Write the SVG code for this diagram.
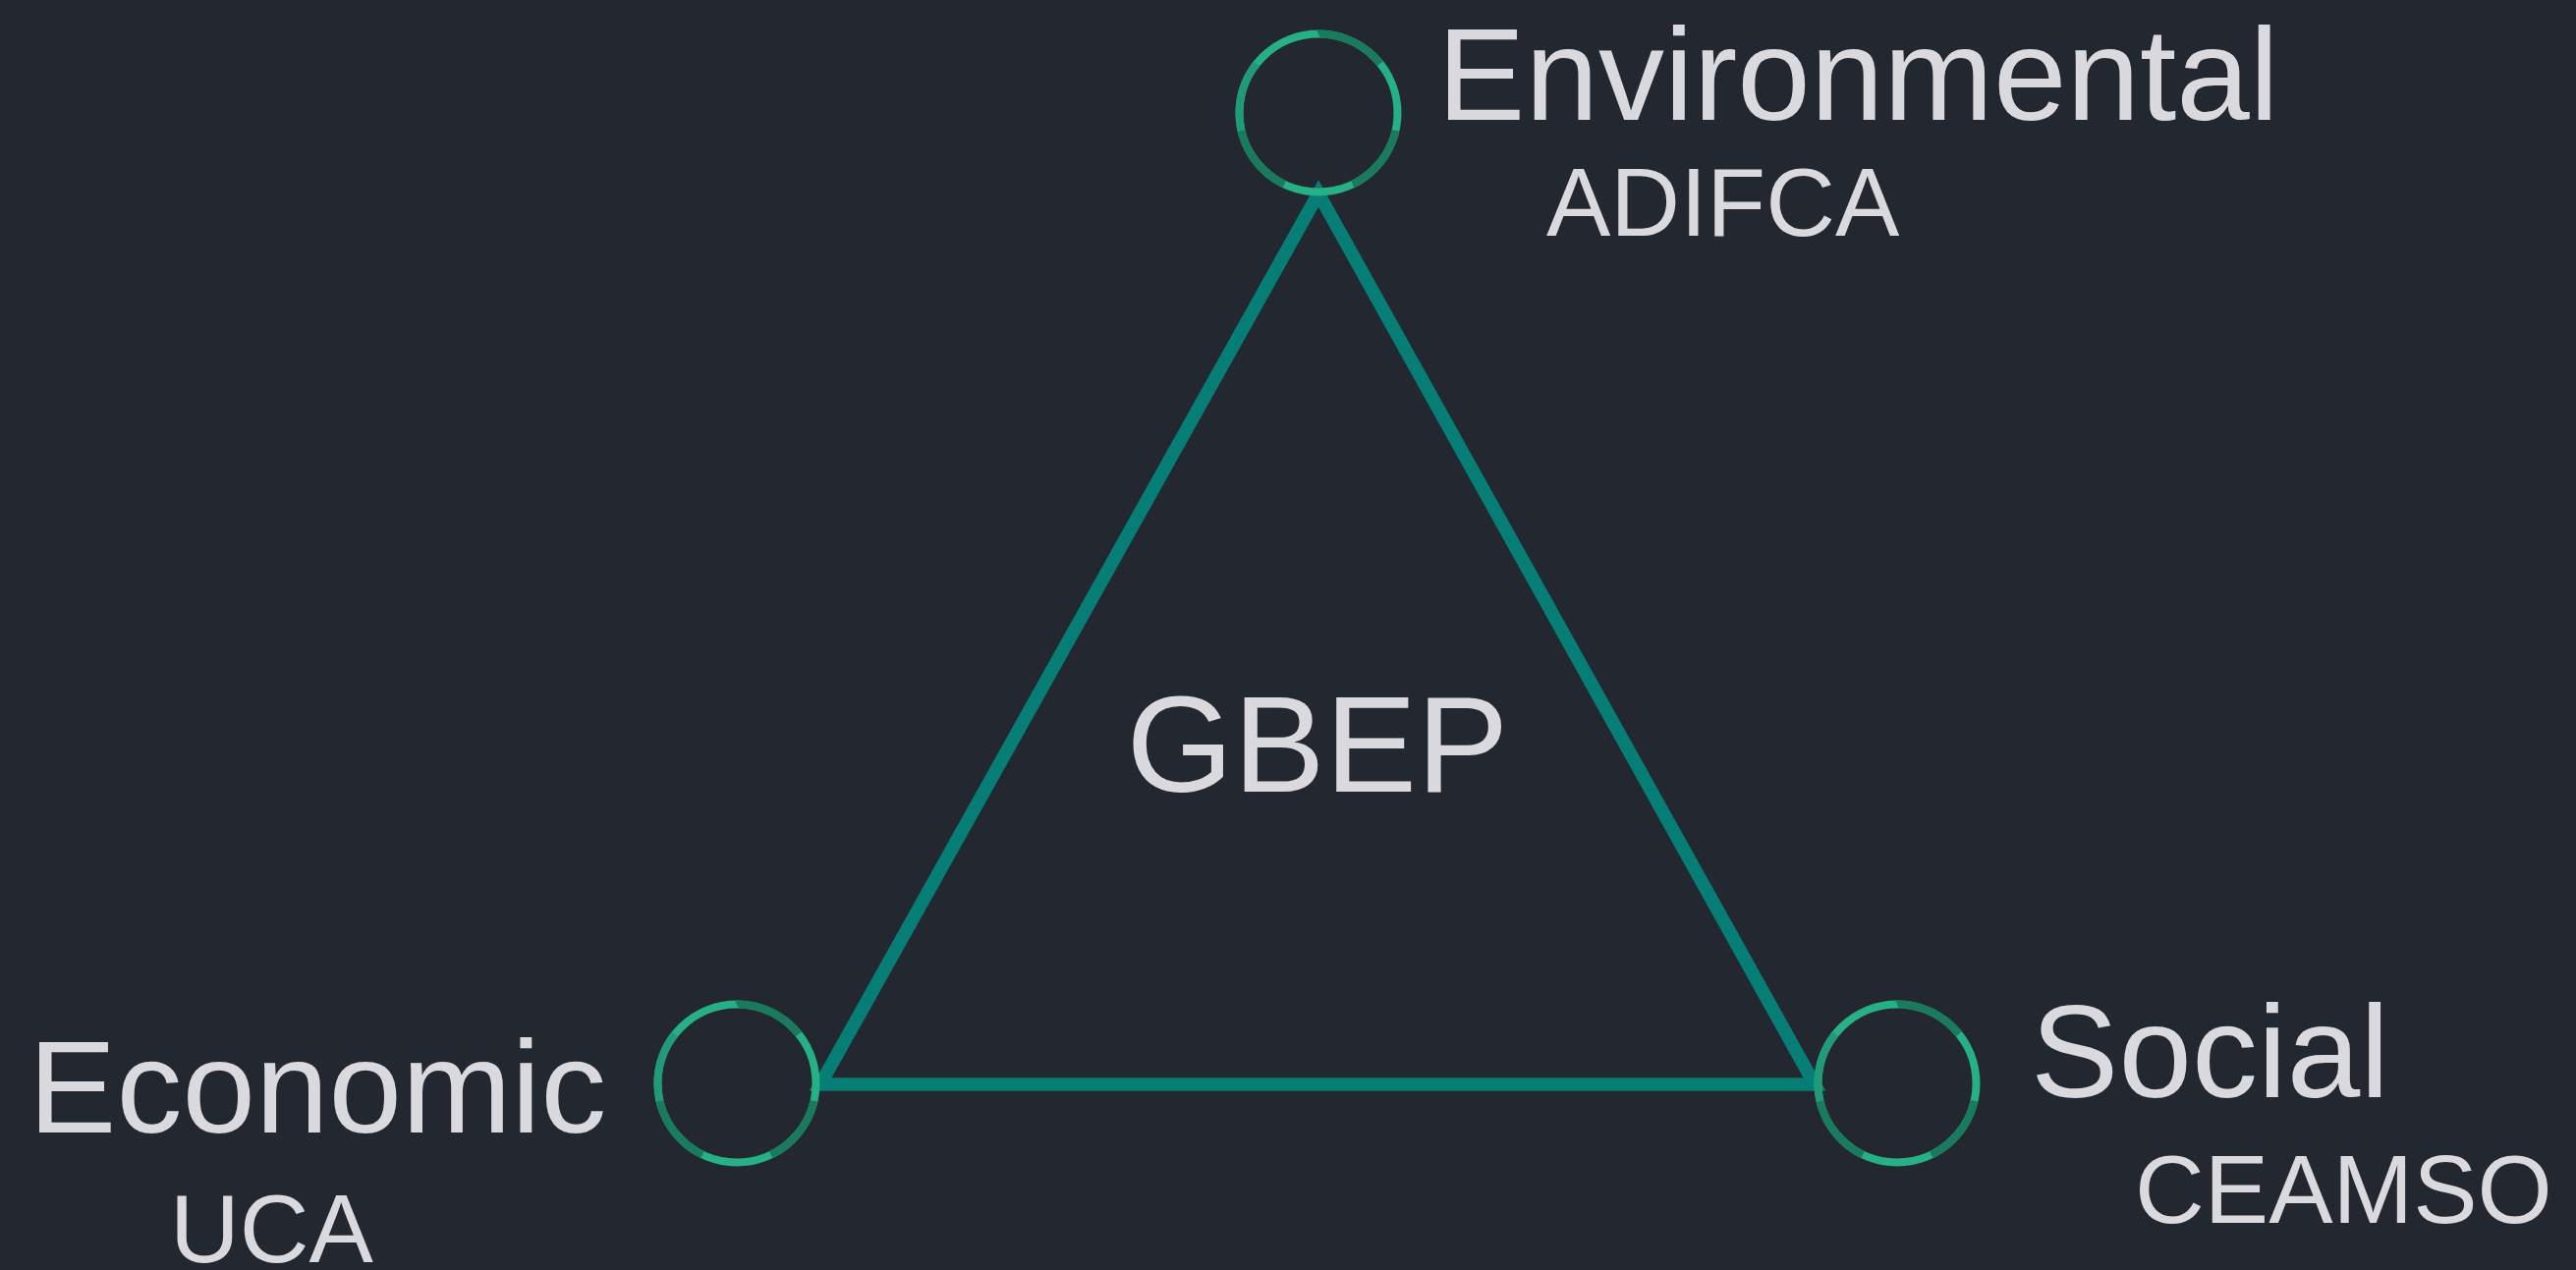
<svg xmlns="http://www.w3.org/2000/svg" width="2622" height="1293" viewBox="0 0 2622 1293">
  <style>
    .lbl { font-family: "Liberation Sans", Arial, sans-serif; fill: #d9d9de; }
    .big { font-size: 134px; }
    .small { font-size: 98px; }
    .center { font-size: 140px; text-anchor: middle; }
    .edge { fill: none; stroke: #067d75; stroke-width: 13.5; stroke-linejoin: miter; }
    .ring-base { fill: none; stroke: #26b086; stroke-width: 8; }
    .ring-dark { fill: none; stroke: #197a5d; stroke-width: 8; stroke-dasharray: 1 1 1 1 1 2; }
    .ring-mid { fill: none; stroke: #219a77; stroke-width: 8; stroke-dasharray: 0 5 1 1; }
  </style>
  <defs>
    <g id="ring">
      <circle class="ring-base" r="80.5"/>
      <circle class="ring-dark" r="80.5" pathLength="7" transform="rotate(-90)"/>
      <circle class="ring-mid" r="80.5" pathLength="7" transform="rotate(-90)"/>
    </g>
  </defs>
  <rect x="0" y="0" width="2622" height="1293" fill="#23272f"/>

  <g id="connectors">
    <path class="edge" d="M 1342 197 L 1847 1104 L 835 1104 Z"/>
  </g>

  <g id="node-gbep">
    <text class="lbl center" x="1341" y="806">GBEP</text>
  </g>

  <g id="node-environmental">
    <use href="#ring" transform="translate(1342 115)"/>
    <text class="lbl big" x="1463" y="122">Environmental</text>
    <text class="lbl small" x="1574" y="240">ADIFCA</text>
  </g>

  <g id="node-economic">
    <use href="#ring" transform="translate(750 1103)"/>
    <text class="lbl big" x="29" y="1153">Economic</text>
    <text class="lbl small" x="173" y="1285">UCA</text>
  </g>

  <g id="node-social">
    <use href="#ring" transform="translate(1931 1103)"/>
    <text class="lbl big" x="2067" y="1117">Social</text>
    <text class="lbl small" x="2173" y="1245">CEAMSO</text>
  </g>
</svg>
